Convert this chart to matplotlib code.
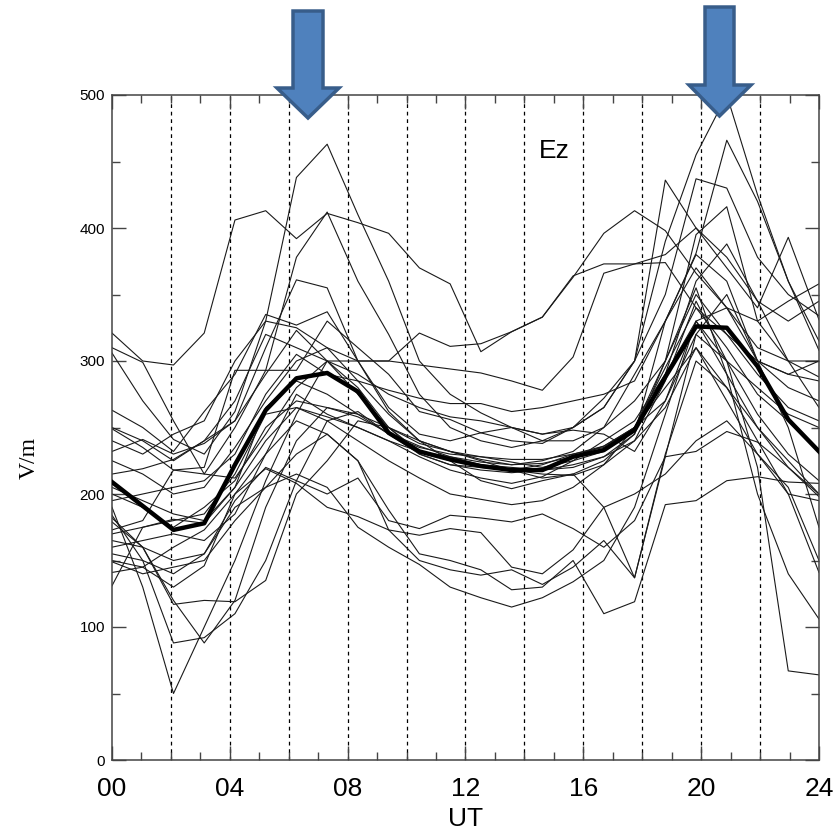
import numpy as np
import matplotlib
matplotlib.use("Agg")
import matplotlib.pyplot as plt
from matplotlib.patches import Polygon

# 24 samples spread over 00-24 UT
ut = np.linspace(0, 24, 24)

mean_ez = [209, 191, 173, 178, 222, 263, 287, 291, 277, 246, 232, 226,
           221, 218, 218, 228, 233, 248, 288, 326, 325, 296, 256, 232]

c01 = [321, 300, 297, 321, 406, 413, 392, 411, 404, 396, 370, 358, 307, 322, 333, 363, 396, 413, 398, 366, 340, 330, 345, 358]
c02 = [310, 299, 255, 215, 250, 293, 293, 330, 310, 290, 262, 256, 246, 240, 238, 250, 272, 300, 350, 437, 430, 378, 350, 334]
c03 = [306, 270, 241, 230, 262, 330, 438, 463, 410, 360, 300, 275, 261, 250, 245, 250, 265, 300, 436, 400, 370, 340, 393, 331]
c04 = [249, 235, 218, 220, 293, 293, 378, 412, 360, 320, 275, 250, 240, 235, 240, 250, 265, 300, 390, 455, 500, 425, 360, 308]
c05 = [232, 241, 230, 238, 255, 310, 361, 355, 300, 262, 240, 232, 226, 222, 225, 232, 250, 290, 330, 381, 466, 420, 360, 315]
c06 = [263, 250, 232, 262, 290, 335, 327, 337, 300, 265, 245, 240, 246, 250, 240, 240, 250, 270, 300, 395, 416, 330, 300, 288]
c07 = [215, 219, 226, 240, 255, 290, 323, 300, 280, 250, 230, 222, 220, 218, 222, 230, 235, 250, 290, 360, 388, 345, 300, 265]
c08 = [190, 130, 50, 100, 150, 210, 260, 300, 275, 250, 238, 232, 228, 224, 220, 225, 232, 250, 300, 355, 290, 200, 140, 106]
c09 = [184, 150, 88, 92, 110, 150, 210, 255, 262, 245, 230, 222, 218, 216, 218, 222, 228, 240, 285, 345, 300, 220, 67, 64]
c10 = [182, 160, 120, 88, 120, 190, 240, 265, 258, 246, 236, 228, 222, 218, 215, 214, 222, 240, 265, 310, 280, 240, 200, 141]
c11 = [179, 160, 117, 120, 119, 135, 200, 225, 255, 250, 240, 232, 225, 218, 212, 215, 225, 245, 300, 350, 320, 290, 265, 255]
c12 = [155, 150, 140, 155, 190, 205, 215, 205, 175, 160, 147, 130, 122, 115, 122, 134, 150, 190, 260, 330, 300, 260, 230, 210]
c13 = [150, 145, 130, 146, 200, 219, 208, 190, 183, 173, 150, 143, 139, 143, 132, 145, 165, 137, 230, 300, 280, 250, 225, 200]
c14 = [165, 160, 150, 155, 195, 220, 210, 200, 212, 180, 174, 184, 182, 179, 185, 174, 160, 180, 228, 232, 247, 239, 220, 198]
c15 = [149, 140, 145, 150, 180, 205, 230, 245, 225, 173, 169, 174, 171, 145, 140, 158, 190, 200, 215, 240, 255, 230, 200, 195]
c16 = [141, 145, 160, 173, 200, 230, 255, 245, 225, 188, 155, 150, 143, 128, 130, 150, 110, 119, 192, 195, 210, 213, 209, 208]
c17 = [173, 180, 218, 215, 212, 245, 280, 300, 290, 275, 265, 258, 255, 250, 245, 248, 245, 232, 270, 330, 340, 300, 290, 300]
c18 = [131, 175, 181, 178, 205, 265, 285, 275, 260, 245, 235, 230, 228, 226, 226, 230, 236, 250, 270, 320, 300, 280, 260, 250]
c19 = [200, 190, 175, 190, 210, 250, 270, 265, 260, 250, 232, 225, 222, 220, 218, 220, 228, 245, 330, 380, 360, 300, 250, 175]
c20 = [240, 230, 245, 255, 300, 330, 325, 310, 300, 300, 321, 311, 313, 322, 333, 364, 373, 373, 380, 400, 378, 345, 330, 345]
c21 = [250, 240, 225, 240, 270, 320, 310, 300, 300, 300, 297, 294, 291, 285, 278, 303, 366, 373, 374, 340, 320, 300, 290, 285]
c22 = [225, 215, 200, 205, 235, 270, 300, 310, 285, 260, 240, 225, 210, 204, 210, 215, 190, 137, 228, 320, 350, 300, 280, 270]
c23 = [170, 175, 180, 185, 215, 260, 265, 258, 250, 240, 228, 218, 212, 208, 213, 225, 240, 255, 290, 330, 290, 250, 220, 200]
c24 = [195, 200, 205, 210, 230, 275, 305, 290, 285, 278, 272, 268, 268, 262, 265, 270, 275, 285, 330, 370, 340, 310, 300, 300]
c25 = [160, 165, 170, 165, 185, 230, 275, 260, 250, 240, 232, 228, 224, 222, 223, 228, 236, 250, 280, 310, 270, 230, 205, 150]
c26 = [205, 195, 185, 180, 205, 240, 265, 255, 240, 225, 212, 200, 196, 192, 195, 205, 222, 250, 295, 340, 310, 275, 255, 232]

days = [c01, c02, c03, c04, c05, c06, c07, c08, c09, c10, c11, c12, c13,
        c14, c15, c16, c17, c18, c19, c20, c21, c22, c23, c24, c25, c26]

xticks = [0, 4, 8, 12, 16, 20, 24]
xlabels = ['00', '04', '08', '12', '16', '20', '24']
yticks = [0, 100, 200, 300, 400, 500]

W, H = 837, 833
fig = plt.figure(figsize=(W / 100, H / 100), dpi=100)
ax = fig.add_axes([112 / W, 1 - 760 / H, (819 - 112) / W, (760 - 95) / H])

for h in range(2, 24, 2):
    ax.axvline(h, color='k', lw=0.9, linestyle=(0, (3, 3)), zorder=1)

for d in days:
    ax.plot(ut, d, color='#1a1a1a', lw=0.8, zorder=2)
ax.plot(ut, mean_ez, color='k', lw=3.2, zorder=3)

ax.set_xlim(0, 24)
ax.set_ylim(0, 500)
ax.set_xticks(xticks)
ax.set_xticklabels(xlabels, family='Liberation Sans', fontsize=19)
ax.set_xticks(range(0, 25), minor=True)
ax.set_yticks(yticks)
ax.set_yticklabels([str(v) for v in yticks], family='Liberation Sans', fontsize=11)
ax.set_yticks(range(50, 500, 100), minor=True)
ax.tick_params(which='both', direction='in', top=True, right=True, color='#444444')
ax.tick_params(which='major', length=10, width=1)
ax.tick_params(which='minor', length=6, width=1)
ax.tick_params(axis='x', pad=12)
ax.tick_params(axis='y', pad=5)
for s in ax.spines.values():
    s.set_color('#444444')
    s.set_linewidth(1.1)

ax.set_xlabel('UT', family='Liberation Sans', fontsize=19)
ax.xaxis.set_label_coords(0.5, -0.07)
ax.set_ylabel('V/m', family='Liberation Serif', fontsize=17)
ax.yaxis.set_label_coords(-0.102, 0.454)
ax.text(15, 458, 'Ez', family='Liberation Sans', fontsize=19, ha='center', va='center')

# block arrows marking the two peaks (pixel outlines)
arrows = [
    [(293, 11), (323, 11), (323, 88), (339, 88), (308, 118), (277, 88), (293, 88)],
    [(705, 7), (734, 7), (734, 85), (751, 85), (719.5, 116), (689, 85), (705, 85)],
]
for pts in arrows:
    poly = Polygon([(x / W, 1 - y / H) for x, y in pts], closed=True,
                   facecolor='#4F81BD', edgecolor='#385D8A', lw=2.5,
                   transform=fig.transFigure, zorder=10)
    fig.add_artist(poly)

fig.savefig('out.png', dpi=100)
